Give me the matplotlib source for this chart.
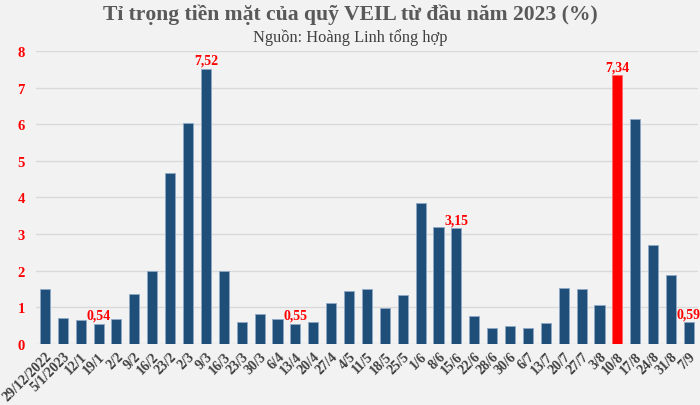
import matplotlib
matplotlib.use("Agg")
import matplotlib.pyplot as plt
import numpy as np

categories = ["29/12/2022", "5/1/2023", "12/1", "19/1", "2/2", "9/2", "16/2", "23/2",
              "2/3", "9/3", "16/3", "23/3", "30/3", "6/4", "13/4", "20/4", "27/4",
              "4/5", "11/5", "18/5", "25/5", "1/6", "8/6", "15/6", "22/6", "28/6",
              "30/6", "6/7", "13/7", "20/7", "27/7", "3/8", "10/8", "17/8", "24/8",
              "31/8", "7/9"]
values = [1.50, 0.70, 0.66, 0.54, 0.68, 1.37, 1.99, 4.66,
          6.02, 7.52, 1.98, 0.60, 0.82, 0.68, 0.55, 0.60, 1.11,
          1.45, 1.49, 0.97, 1.32, 3.84, 3.20, 3.15, 0.77, 0.43,
          0.48, 0.43, 0.56, 1.53, 1.50, 1.05, 7.34, 6.15, 2.70,
          1.88, 0.59]
highlight = "10/8"
labelled = ["19/1", "9/3", "13/4", "15/6", "10/8", "7/9"]
yticks = [0, 1, 2, 3, 4, 5, 6, 7, 8]

FONT = "Liberation Serif"
BG = "#F2F2F2"
BLUE = "#1F4E79"
RED = "#FF0000"

fig = plt.figure(figsize=(7.0, 4.06), dpi=100, facecolor=BG)
ax = fig.add_axes([0.0514, 0.151, 0.9456, 0.721], facecolor=BG)

x = np.arange(len(categories))
colors = [RED if c == highlight else BLUE for c in categories]
edges = ["#FF6666" if c == highlight else "#8FA8C4" for c in categories]
ax.bar(x, values, width=0.56, color=colors, edgecolor=edges, linewidth=0.6, zorder=3)

for xi, c, v in zip(x, categories, values):
    if c in labelled:
        ax.annotate(f"{v:.2f}".replace(".", ","), (xi, v), xytext=(0, 1.5),
                    textcoords="offset points", ha="center", va="bottom",
                    color=RED, fontweight="bold", fontsize=10, family=FONT, zorder=4)

ax.set_xlim(-0.5, len(categories) - 0.5)
ax.set_ylim(0, 8)
ax.set_yticks(yticks)
ax.set_yticklabels([str(t) for t in yticks], color=RED, fontweight="bold",
                   fontsize=10.5, family=FONT)
ax.set_xticks(x)
ax.set_xticklabels(categories, rotation=45, ha="right", rotation_mode="anchor",
                   color="#404040", fontweight="bold", fontsize=10, family=FONT)
ax.tick_params(axis="both", length=0, pad=4)
ax.tick_params(axis="y", pad=8)
ax.grid(axis="y", color="#D9D9D9", linewidth=1.0, zorder=0)
for s in ax.spines.values():
    s.set_visible(False)

fig.text(0.5, 0.963, "Tỉ trọng tiền mặt của quỹ VEIL từ đầu năm 2023 (%)",
         ha="center", va="center", fontsize=15.6, fontweight="bold",
         color="#595959", family=FONT)
fig.text(0.5, 0.908, "Nguồn: Hoàng Linh tổng hợp", ha="center", va="center",
         fontsize=11.8, color="#404040", family=FONT)

fig.savefig("out.png", dpi=100, facecolor=BG)
